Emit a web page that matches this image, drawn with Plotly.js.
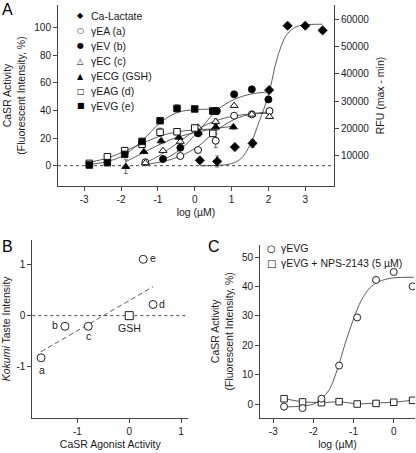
<!DOCTYPE html>
<html><head><meta charset="utf-8">
<script src="https://cdn.plot.ly/plotly-3.0.1.min.js"></script>
<style>html,body{margin:0;padding:0;background:#fff}#chart{width:416px;height:453px}</style>
</head><body><div id="chart"></div>
<script>
// ---------- Panel A data (log µM vs CaSR activity %) ----------
var caLactateX = [0.14, 0.61, 1.09, 1.57, 2.02, 2.52, 3.0, 3.47];
var caLactateY = [3.9, 3.1, 13.5, 16.2, 54.8, 101.4, 101.4, 98];
var caLactateErr = [0, 4, 0, 3, 0, 0, 0, 0];
var caLactateFitX = [0.14, 0.6, 1.0, 1.25, 1.5, 1.75, 2.0, 2.25, 2.5, 2.75, 3.0, 3.47];
var caLactateFitY = [0, 0.2, 1.5, 5, 15, 32, 51, 79, 95, 100.5, 102, 102.5];

var gEAX = [-1.34, -0.39, 0.09, 0.57, 1.07, 1.55, 2.03];
var gEAY = [2.5, 7.0, 11.4, 18.1, 36.2, 37.2, 39.6];
var gEAErr = [0, 0, 0, 5, 0, 0, 2];
var gEAFitX = [-1.34, -0.86, -0.39, 0.09, 0.57, 1.07, 1.55, 2.03];
var gEAFitY = [1, 3, 7, 14, 25, 33.5, 37.5, 39];

var gEVX = [-0.86, -0.39, 0.09, 0.6, 1.07, 1.55, 2.0];
var gEVY = [4.8, 13.0, 23.4, 39.6, 51.7, 55.3, 48];
var gEVErr = [0, 0, 0, 0, 0, 1, 0];
var gEVFitX = [-0.86, -0.4, 0.1, 0.6, 1.07, 1.55, 2.02];
var gEVFitY = [4, 11.5, 25, 40, 48, 52, 53.5];

var gECX = [-1.34, -0.86, -0.39, 0.09, 0.57, 1.07, 1.55, 2.03];
var gECY = [2.0, 10.9, 17.5, 27.8, 31.9, 43.5, 37.2, 35.5];
var gECErr = [0, 0, 0, 0, 2, 0, 0, 0];
var gECFitX = [-1.34, -0.86, -0.39, 0.09, 0.57, 1.07, 1.55, 2.03];
var gECFitY = [2, 9, 18, 26.5, 32.5, 36, 37.5, 38];

var gECGX = [-1.87, -1.38, -0.91, -0.43, 0.1, 0.57, 1.05];
var gECGY = [-0.7, 10.1, 17.9, 20.5, 24, 28, 28];
var gECGErr = [5, 0, 2, 0, 0, 2, 1.5];
var gECGFitX = [-1.87, -1.38, -0.91, -0.43, 0.1, 0.57, 1.05];
var gECGFitY = [3, 9.5, 16, 21, 24.5, 27, 28.5];

var gEAGX = [-2.86, -2.37, -1.90, -1.43, -0.94, -0.48, 0.0, 0.49];
var gEAGY = [1.7, 6.5, 10.9, 15.5, 24.2, 24.6, 27.3, 23.4];
var gEAGErr = [0, 0, 0, 0, 3, 0, 2, 0];
var gEAGFitX = [-2.86, -2.37, -1.9, -1.43, -0.94, -0.48, 0, 0.49];
var gEAGFitY = [2.5, 5.5, 10.5, 16, 21.5, 24.5, 26, 26.5];

var gEVGX = [-2.86, -2.37, -1.90, -1.43, -0.94, -0.48, 0.0, 0.49, 0.57];
var gEVGY = [0.5, 2.2, 8.2, 17.6, 32.6, 41.5, 41.1, 39.6, 39.6];
var gEVGErr = [0, 0, 0, 0, 0, 2.5, 0, 0, 0];
var gEVGFitX = [-2.86, -2.37, -1.9, -1.43, -0.94, -0.48, 0, 0.57];
var gEVGFitY = [1, 3, 8, 18, 31, 38.5, 40.5, 41];

var seriesNamesA = ['Ca-Lactate', 'γEA (a)', 'γEV (b)', 'γEC (c)', 'γECG (GSH)', 'γEAG (d)', 'γEVG (e)'];
var legendGlyphsA = ['◆', '○', '●', '△', '▲', '□', '■'];
var xTicksA = [-3, -2, -1, 0, 1, 2, 3];
var xTickTextA = ['-3', '-2', '-1', '0', '1', '2', '3'];
var yTicksA = [0, 20, 40, 60, 80, 100];
var yTicksRFU = [10000, 20000, 30000, 40000, 50000, 60000];
var yTickTextRFU = ['10000', '20000', '30000', '40000', '50000', '60000'];

// ---------- Panel B data ----------
var agonistX = [-1.70, -1.24, -0.79, 0.46, 0.27];
var kokumiY = [-0.83, -0.21, -0.21, 0.22, 1.11];
var peptideLabels = ['a', 'b', 'c', 'd', 'e'];
var gshX = [0];
var gshY = [0];
var regressionX = [-1.70, 0.46];
var regressionY = [-0.71, 0.57];
var xTicksB = [-1, 0, 1];
var xTickTextB = ['-1', '0', '1'];
var yTicksB = [-1, 0, 1];
var yTickTextB = ['-1', '0', '1'];

// ---------- Panel C data ----------
var logConcC = [-2.73, -2.27, -1.80, -1.36, -0.91, -0.44, 0.0, 0.47];
var gEVGActivity = [-0.9, -1.4, 1.8, 13.1, 29.5, 42.3, 45.0, 40.1];
var gEVGNPSActivity = [1.8, 0.7, 0.45, 0.8, 0.0, 0.2, 0.6, 1.25];
var gEVGFitCX = [-2.73, -2.27, -2.0, -1.8, -1.6, -1.4, -1.2, -1.0, -0.8, -0.6, -0.4, -0.2, 0.0, 0.5];
var gEVGFitCY = [-1.0, -0.7, 0.0, 1.8, 5, 12, 21, 29, 35.5, 39.5, 41.5, 42.5, 43, 43.2];
var seriesNamesC = ['γEVG', 'γEVG + NPS-2143 (5 µM)'];
var legendGlyphsC = ['○', '□'];
var xTicksC = [-3, -2, -1, 0];
var xTickTextC = ['-3', '-2', '-1', '0'];
var yTicksC = [0, 10, 20, 30, 40, 50];

// ---------- build ----------
var FONT = 'Arial, "Liberation Sans", Helvetica, sans-serif';
var INK = '#1a1a1a';
var AX = '#444';
var fitLine = {color: '#333', width: 0.8, shape: 'spline', smoothing: 1};

function fit(x, y, xa, ya) {
  return {x: x, y: y, mode: 'lines', line: fitLine, xaxis: xa, yaxis: ya, showlegend: false, hoverinfo: 'skip'};
}
function pts(x, y, err, name, symbol, fill, size) {
  return {
    x: x, y: y, name: name, mode: 'markers', xaxis: 'x', yaxis: 'y', showlegend: false,
    marker: {symbol: symbol, size: size, color: fill, line: {color: '#111', width: 1}},
    error_y: {type: 'data', array: err, visible: true, color: '#444', thickness: 0.8, width: 2}
  };
}

var traces = [
  // carrier for the right-hand RFU axis (no marks)
  {x: [], y: [], mode: 'markers', xaxis: 'x', yaxis: 'y2', showlegend: false, hoverinfo: 'skip', name: 'RFU'},
  fit(caLactateFitX, caLactateFitY, 'x', 'y'),
  fit(gEAFitX, gEAFitY, 'x', 'y'),
  fit(gEVFitX, gEVFitY, 'x', 'y'),
  fit(gECFitX, gECFitY, 'x', 'y'),
  fit(gECGFitX, gECGFitY, 'x', 'y'),
  fit(gEAGFitX, gEAGFitY, 'x', 'y'),
  fit(gEVGFitX, gEVGFitY, 'x', 'y'),
  pts(caLactateX, caLactateY, caLactateErr, seriesNamesA[0], 'diamond', '#000', 7),
  pts(gEAX, gEAY, gEAErr, seriesNamesA[1], 'circle', '#fff', 7),
  pts(gEVX, gEVY, gEVErr, seriesNamesA[2], 'circle', '#000', 7),
  pts(gECX, gECY, gECErr, seriesNamesA[3], 'triangle-up', '#fff', 7),
  pts(gECGX, gECGY, gECGErr, seriesNamesA[4], 'triangle-up', '#000', 7),
  pts(gEAGX, gEAGY, gEAGErr, seriesNamesA[5], 'square', '#fff', 6.5),
  pts(gEVGX, gEVGY, gEVGErr, seriesNamesA[6], 'square', '#000', 6.5),
  // Panel B
  {x: regressionX, y: regressionY, mode: 'lines', line: {color: '#333', width: 0.8, dash: '5px,3px'}, xaxis: 'x2', yaxis: 'y3', showlegend: false, hoverinfo: 'skip'},
  {x: agonistX, y: kokumiY, text: peptideLabels, mode: 'markers', name: 'peptides', xaxis: 'x2', yaxis: 'y3', showlegend: false,
   marker: {symbol: 'circle', size: 8, color: '#fff', line: {color: '#222', width: 1}}},
  {x: gshX, y: gshY, mode: 'markers', name: 'GSH', xaxis: 'x2', yaxis: 'y3', showlegend: false,
   marker: {symbol: 'square', size: 8, color: '#fff', line: {color: '#222', width: 1}}},
  // Panel C
  fit(gEVGFitCX, gEVGFitCY, 'x3', 'y4'),
  {x: logConcC, y: gEVGNPSActivity, name: seriesNamesC[1], mode: 'lines+markers', xaxis: 'x3', yaxis: 'y4', showlegend: false,
   line: {color: '#333', width: 0.8}, marker: {symbol: 'square', size: 6.5, color: '#fff', line: {color: '#222', width: 1}}},
  {x: logConcC, y: gEVGActivity, name: seriesNamesC[0], mode: 'markers', xaxis: 'x3', yaxis: 'y4', showlegend: false,
   marker: {symbol: 'circle', size: 7, color: '#fff', line: {color: '#222', width: 1}}}
];

function axisBase(extra) {
  var a = {
    showline: true, linecolor: AX, linewidth: 1, showgrid: false, zeroline: false,
    ticks: 'outside', ticklen: 4, tickwidth: 1, tickcolor: AX,
    tickfont: {family: FONT, size: 10, color: INK}, automargin: false, fixedrange: true
  };
  for (var k in extra) a[k] = extra[k];
  return a;
}
function titleObj(t, standoff) {
  return {text: t, font: {family: FONT, size: 10.5, color: INK}, standoff: standoff};
}

var W = 416, H = 453;
function px(v) { return v / W; }
function py(v) { return 1 - v / H; }

var annotations = [];
function panelLabel(t, x, y) {
  annotations.push({text: t, xref: 'paper', yref: 'paper', x: px(x), y: py(y), xanchor: 'left', yanchor: 'top',
    showarrow: false, font: {family: FONT, size: 16, color: '#000'}});
}
panelLabel('A', 0, -1);
panelLabel('B', 0, 236);
panelLabel('C', 206, 236);

var legendRowsA = [15.7, 30.8, 46.0, 61.1, 76.2, 91.0, 106.0];
seriesNamesA.forEach(function (n, i) {
  annotations.push({text: legendGlyphsA[i], xref: 'paper', yref: 'paper', x: px(80.7), y: py(legendRowsA[i]),
    xanchor: 'center', yanchor: 'middle', showarrow: false, font: {family: 'DejaVu Sans', size: 8, color: '#000'}});
  annotations.push({text: n, xref: 'paper', yref: 'paper', x: px(88.5), y: py(legendRowsA[i]),
    xanchor: 'left', yanchor: 'middle', showarrow: false, font: {family: FONT, size: 10.5, color: INK}});
});
var legendRowsC = [248.3, 263.3];
seriesNamesC.forEach(function (n, i) {
  annotations.push({text: legendGlyphsC[i], xref: 'paper', yref: 'paper', x: px(271.7), y: py(legendRowsC[i]),
    xanchor: 'center', yanchor: 'middle', showarrow: false, font: {family: 'DejaVu Sans', size: 10, color: '#000'}});
  annotations.push({text: n, xref: 'paper', yref: 'paper', x: px(279), y: py(legendRowsC[i]),
    xanchor: 'left', yanchor: 'middle', showarrow: false, font: {family: FONT, size: 10.5, color: INK}});
});

var labelShift = [[1, -12], [-10, 1], [0, -10], [9, 0], [10, 1]];
peptideLabels.forEach(function (t, i) {
  annotations.push({text: t, xref: 'x2', yref: 'y3', x: agonistX[i], y: kokumiY[i], xshift: labelShift[i][0], yshift: labelShift[i][1],
    showarrow: false, font: {family: FONT, size: 10.5, color: INK}});
});
annotations.push({text: 'GSH', xref: 'x2', yref: 'y3', x: gshX[0], y: gshY[0], yshift: -12, showarrow: false,
  font: {family: FONT, size: 10.5, color: INK}});

var layout = {
  width: W, height: H, margin: {l: 0, r: 0, t: 0, b: 0}, paper_bgcolor: '#fff', plot_bgcolor: 'rgba(0,0,0,0)',
  showlegend: false, font: {family: FONT, size: 10, color: INK},
  xaxis: axisBase({domain: [px(58), px(334)], range: [-3.71, 3.78], anchor: 'y', tickvals: xTicksA, ticktext: xTickTextA,
    title: titleObj('log (µM)', 4)}),
  yaxis: axisBase({domain: [py(186), py(5)], range: [-14.7, 116.4], anchor: 'x', tickvals: yTicksA,
    title: titleObj('CaSR Activity<br>(Fluorescent Intensity, %)', 6)}),
  yaxis2: axisBase({overlaying: 'y', side: 'right', anchor: 'x', range: [-1083, 65120], tickvals: yTicksRFU, ticktext: yTickTextRFU,
    title: titleObj('RFU (max - min)', 8)}),
  xaxis2: axisBase({domain: [px(32.3), px(188.3)], range: [-1.87, 1.14], anchor: 'y3', tickvals: xTicksB, ticktext: xTickTextB,
    title: titleObj('CaSR Agonist Activity', 4)}),
  yaxis3: axisBase({domain: [py(417.7), py(240)], range: [-2.01, 1.49], anchor: 'x2', tickvals: yTicksB, ticktext: yTickTextB,
    title: titleObj('<i>Kokumi</i> Taste Intensity', 6)}),
  xaxis3: axisBase({domain: [px(260), px(415)], range: [-3.33, 0.53], anchor: 'y4', tickvals: xTicksC, ticktext: xTickTextC,
    title: titleObj('log (µM)', 4)}),
  yaxis4: axisBase({domain: [py(417.7), py(245)], range: [-4.67, 54.2], anchor: 'x3', tickvals: yTicksC,
    title: titleObj('CaSR Activity<br>(Fluorescent Intensity, %)', 6)}),
  shapes: [
    {type: 'line', xref: 'x domain', yref: 'y', x0: 0, x1: 1, y0: 0, y1: 0, line: {color: '#444', width: 1, dash: 'dot'}, layer: 'below'},
    {type: 'line', xref: 'x2 domain', yref: 'y3', x0: 0, x1: 1, y0: 0, y1: 0, line: {color: '#444', width: 1, dash: 'dot'}, layer: 'below'}
  ],
  annotations: annotations
};

Plotly.newPlot('chart', traces, layout, {staticPlot: true, displayModeBar: false});
</script></body></html>
